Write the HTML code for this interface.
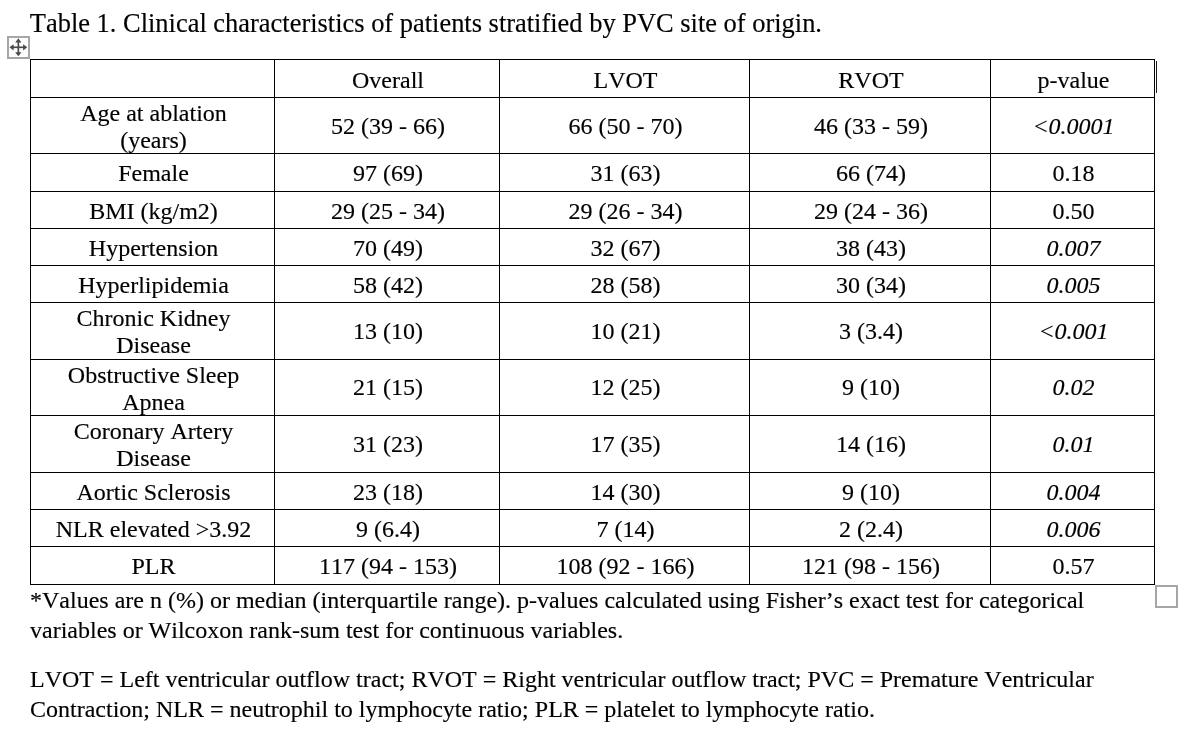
<!DOCTYPE html>
<html><head><meta charset="utf-8"><title>Table 1</title>
<style>
html,body{margin:0;padding:0;background:#fff;}
html{filter:grayscale(1);}
body{width:1191px;height:732px;position:relative;overflow:hidden;font-family:"Liberation Serif",serif;color:#000;font-kerning:none;-webkit-text-stroke:0.15px #000;}
.t{position:absolute;white-space:pre;font-size:24px;line-height:28px;height:28px;text-align:center;}
.i{font-style:italic;}
.p{position:absolute;white-space:pre;font-size:24px;line-height:28px;height:28px;left:30px;}
.h{position:absolute;background:#000;height:1px;}
.v{position:absolute;background:#000;width:1px;}
.box{position:absolute;box-sizing:border-box;width:23px;height:23px;border:2px solid #a6a6a6;background:#fff;}
</style></head><body>
<div class="p" id="title" style="font-size:26.45px;top:9.40px;left:29.8px">Table 1. Clinical characteristics of patients stratified by PVC site of origin.</div>
<div class="h" style="left:30px;top:59px;width:1125px"></div>
<div class="h" style="left:30px;top:97px;width:1125px"></div>
<div class="h" style="left:30px;top:153px;width:1125px"></div>
<div class="h" style="left:30px;top:191px;width:1125px"></div>
<div class="h" style="left:30px;top:228px;width:1125px"></div>
<div class="h" style="left:30px;top:265px;width:1125px"></div>
<div class="h" style="left:30px;top:302px;width:1125px"></div>
<div class="h" style="left:30px;top:359px;width:1125px"></div>
<div class="h" style="left:30px;top:415px;width:1125px"></div>
<div class="h" style="left:30px;top:472px;width:1125px"></div>
<div class="h" style="left:30px;top:509px;width:1125px"></div>
<div class="h" style="left:30px;top:546px;width:1125px"></div>
<div class="h" style="left:30px;top:584px;width:1125px"></div>
<div class="v" style="left:30px;top:59px;height:526px"></div>
<div class="v" style="left:274px;top:59px;height:526px"></div>
<div class="v" style="left:499px;top:59px;height:526px"></div>
<div class="v" style="left:749px;top:59px;height:526px"></div>
<div class="v" style="left:990px;top:59px;height:526px"></div>
<div class="v" style="left:1154px;top:59px;height:526px"></div>
<div class="v" style="left:1156px;top:61px;height:32px;background:#1a1a1a"></div>
<div class="t" style="left:268.00px;width:240px;top:66.00px">Overall</div>
<div class="t" style="left:505.50px;width:240px;top:66.00px">LVOT</div>
<div class="t" style="left:751.00px;width:240px;top:66.00px">RVOT</div>
<div class="t" style="left:953.50px;width:240px;top:66.00px">p-value</div>
<div class="t" style="left:33.50px;width:240px;top:99.00px">Age at ablation</div>
<div class="t" style="left:33.50px;width:240px;top:126.00px">(years)</div>
<div class="t" style="left:268.00px;width:240px;top:112.00px">52 (39 - 66)</div>
<div class="t" style="left:505.50px;width:240px;top:112.00px">66 (50 - 70)</div>
<div class="t" style="left:751.00px;width:240px;top:112.00px">46 (33 - 59)</div>
<div class="t i" style="left:953.50px;width:240px;top:112.00px">&lt;0.0001</div>
<div class="t" style="left:33.50px;width:240px;top:159.00px">Female</div>
<div class="t" style="left:268.00px;width:240px;top:159.00px">97 (69)</div>
<div class="t" style="left:505.50px;width:240px;top:159.00px">31 (63)</div>
<div class="t" style="left:751.00px;width:240px;top:159.00px">66 (74)</div>
<div class="t" style="left:953.50px;width:240px;top:159.00px">0.18</div>
<div class="t" style="left:33.50px;width:240px;top:197.00px">BMI (kg/m2)</div>
<div class="t" style="left:268.00px;width:240px;top:197.00px">29 (25 - 34)</div>
<div class="t" style="left:505.50px;width:240px;top:197.00px">29 (26 - 34)</div>
<div class="t" style="left:751.00px;width:240px;top:197.00px">29 (24 - 36)</div>
<div class="t" style="left:953.50px;width:240px;top:197.00px">0.50</div>
<div class="t" style="left:33.50px;width:240px;top:234.00px">Hypertension</div>
<div class="t" style="left:268.00px;width:240px;top:234.00px">70 (49)</div>
<div class="t" style="left:505.50px;width:240px;top:234.00px">32 (67)</div>
<div class="t" style="left:751.00px;width:240px;top:234.00px">38 (43)</div>
<div class="t i" style="left:953.50px;width:240px;top:234.00px">0.007</div>
<div class="t" style="left:33.50px;width:240px;top:271.00px">Hyperlipidemia</div>
<div class="t" style="left:268.00px;width:240px;top:271.00px">58 (42)</div>
<div class="t" style="left:505.50px;width:240px;top:271.00px">28 (58)</div>
<div class="t" style="left:751.00px;width:240px;top:271.00px">30 (34)</div>
<div class="t i" style="left:953.50px;width:240px;top:271.00px">0.005</div>
<div class="t" style="left:33.50px;width:240px;top:304.00px">Chronic Kidney</div>
<div class="t" style="left:33.50px;width:240px;top:331.00px">Disease</div>
<div class="t" style="left:268.00px;width:240px;top:317.00px">13 (10)</div>
<div class="t" style="left:505.50px;width:240px;top:317.00px">10 (21)</div>
<div class="t" style="left:751.00px;width:240px;top:317.00px">3 (3.4)</div>
<div class="t i" style="left:953.50px;width:240px;top:317.00px">&lt;0.001</div>
<div class="t" style="left:33.50px;width:240px;top:361.00px">Obstructive Sleep</div>
<div class="t" style="left:33.50px;width:240px;top:388.00px">Apnea</div>
<div class="t" style="left:268.00px;width:240px;top:373.00px">21 (15)</div>
<div class="t" style="left:505.50px;width:240px;top:373.00px">12 (25)</div>
<div class="t" style="left:751.00px;width:240px;top:373.00px">9 (10)</div>
<div class="t i" style="left:953.50px;width:240px;top:373.00px">0.02</div>
<div class="t" style="left:33.50px;width:240px;top:417.00px">Coronary Artery</div>
<div class="t" style="left:33.50px;width:240px;top:444.00px">Disease</div>
<div class="t" style="left:268.00px;width:240px;top:430.00px">31 (23)</div>
<div class="t" style="left:505.50px;width:240px;top:430.00px">17 (35)</div>
<div class="t" style="left:751.00px;width:240px;top:430.00px">14 (16)</div>
<div class="t i" style="left:953.50px;width:240px;top:430.00px">0.01</div>
<div class="t" style="left:33.50px;width:240px;top:478.00px">Aortic Sclerosis</div>
<div class="t" style="left:268.00px;width:240px;top:478.00px">23 (18)</div>
<div class="t" style="left:505.50px;width:240px;top:478.00px">14 (30)</div>
<div class="t" style="left:751.00px;width:240px;top:478.00px">9 (10)</div>
<div class="t i" style="left:953.50px;width:240px;top:478.00px">0.004</div>
<div class="t" style="left:33.50px;width:240px;top:515.00px">NLR elevated &gt;3.92</div>
<div class="t" style="left:268.00px;width:240px;top:515.00px">9 (6.4)</div>
<div class="t" style="left:505.50px;width:240px;top:515.00px">7 (14)</div>
<div class="t" style="left:751.00px;width:240px;top:515.00px">2 (2.4)</div>
<div class="t i" style="left:953.50px;width:240px;top:515.00px">0.006</div>
<div class="t" style="left:33.50px;width:240px;top:552.00px">PLR</div>
<div class="t" style="left:268.00px;width:240px;top:552.00px">117 (94 - 153)</div>
<div class="t" style="left:505.50px;width:240px;top:552.00px">108 (92 - 166)</div>
<div class="t" style="left:751.00px;width:240px;top:552.00px">121 (98 - 156)</div>
<div class="t" style="left:953.50px;width:240px;top:552.00px">0.57</div>
<div class="p" style="top:586.00px">*Values are n (%) or median (interquartile range). p-values calculated using Fisher’s exact test for categorical</div>
<div class="p" style="top:616.00px">variables or Wilcoxon rank-sum test for continuous variables.</div>
<div class="p" style="top:665.00px">LVOT = Left ventricular outflow tract; RVOT = Right ventricular outflow tract; PVC = Premature Ventricular</div>
<div class="p" style="top:695.00px">Contraction; NLR = neutrophil to lymphocyte ratio; PLR = platelet to lymphocyte ratio.</div>
<div class="box" style="left:7px;top:36px"></div>
<svg style="position:absolute;left:7px;top:36px" width="23" height="23" viewBox="0 0 23 23">
<g fill="#4a4a4a" stroke="none">
<rect x="10.5" y="4" width="1.7" height="15"/>
<rect x="4" y="10.45" width="15" height="1.7"/>
<path d="M11.35 2.3 L14.5 6.4 L8.2 6.4 Z"/>
<path d="M11.35 20.3 L14.5 16.2 L8.2 16.2 Z"/>
<path d="M2.5 11.3 L6.6 8.2 L6.6 14.4 Z"/>
<path d="M20.2 11.3 L16.1 8.2 L16.1 14.4 Z"/>
</g></svg>
<div class="box" style="left:1155px;top:585px"></div>
</body></html>
